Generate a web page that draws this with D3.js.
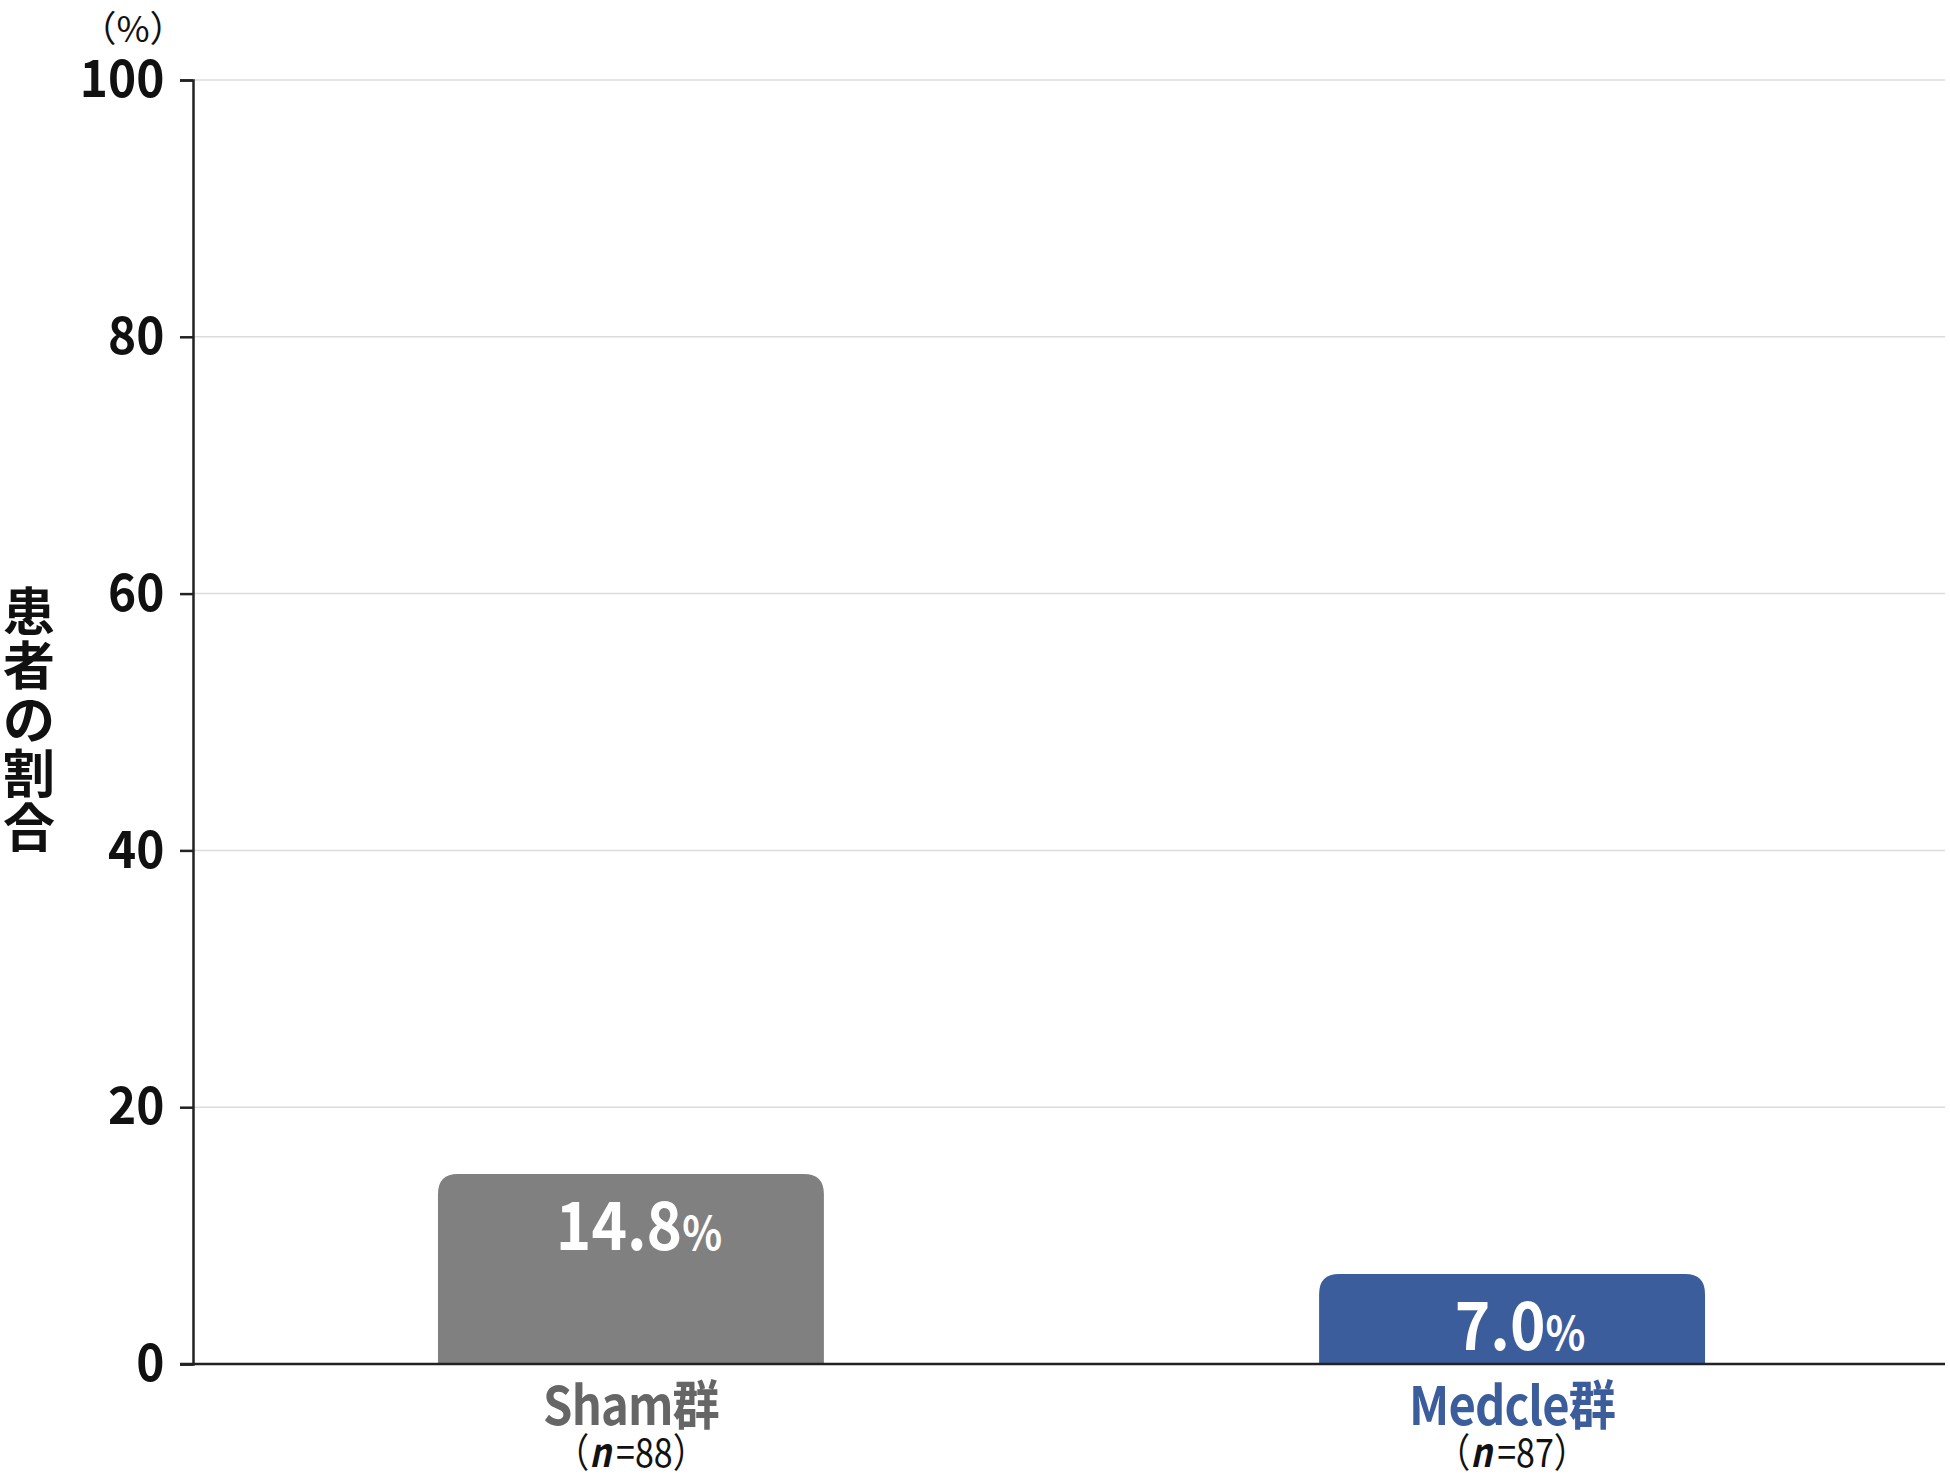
<!DOCTYPE html>
<html><head><meta charset="utf-8">
<script src="https://cdn.jsdelivr.net/npm/d3@7"></script>
<style>
html,body{margin:0;padding:0;background:#fff;}
text{font-family:"Noto Sans CJK JP","Noto Sans",sans-serif;}
</style></head>
<body><svg id="chart" width="1950" height="1479"></svg>
<script>
const categories = ["Sham群", "Medcle群"];
const sampleSizes = ["88", "87"];
const values = [14.8, 7.0];
const barColors = ["#808080", "#3b5d9b"];
const labelColors = ["#666666", "#3b5d9b"];
const yTicks = [0, 20, 40, 60, 80, 100];
const yTitle = "患者の割合";
const yUnit = "（%）";

(function () {
const svg = d3.select("#chart");
const mLeft = 193, mRight = 1945, mTop = 80, mBottom = 1364;

const x = d3.scaleBand().domain(categories).range([mLeft, 1950]).paddingInner(0.562).paddingOuter(0.278);
const y = d3.scaleLinear().domain([0, 100]).range([mBottom, mTop]);
const cx = c => x(c) + x.bandwidth() / 2;

// gridlines
svg.append("g").selectAll("line").data(yTicks.filter(d => d > 0)).join("line")
  .attr("x1", mLeft).attr("x2", mRight)
  .attr("y1", d => y(d)).attr("y2", d => y(d))
  .attr("stroke", "#dcdcdc").attr("stroke-width", 1.5);

// bars with rounded top corners
const r = 20;
svg.append("g").selectAll("path").data(categories).join("path")
  .attr("d", (c, i) => {
    const x0 = x(c), x1 = x(c) + x.bandwidth(), y0 = y(0), yt = y(values[i]);
    return `M${x0},${y0} L${x0},${yt + r} Q${x0},${yt} ${x0 + r},${yt} L${x1 - r},${yt} Q${x1},${yt} ${x1},${yt + r} L${x1},${y0} Z`;
  })
  .attr("fill", (c, i) => barColors[i]);

// value labels
const vl = svg.append("g").selectAll("text").data(categories).join("text")
  .attr("transform", (c, i) => `translate(${cx(c) + 8},${y(values[i]) + 76}) scale(0.9,1)`)
  .attr("text-anchor", "middle")
  .attr("fill", "#fff").attr("font-weight", "bold");
vl.append("tspan").attr("font-size", 67).text((c, i) => values[i].toFixed(1));
vl.append("tspan").attr("font-size", 46).text("%");

// y axis
const yAxis = d3.axisLeft(y).tickValues(yTicks).tickSize(13).tickPadding(17).tickFormat(d3.format("d"));
const ga = svg.append("g").attr("transform", `translate(${mLeft},0)`).call(yAxis);
ga.select(".domain").attr("stroke", "#222").attr("stroke-width", 2.5);
ga.selectAll(".tick line").attr("stroke", "#222").attr("stroke-width", 2.5);
ga.selectAll(".tick text").attr("font-size", 52).attr("font-weight", "bold").attr("fill", "#111")
  .attr("x", -31).attr("transform", "scale(0.92,1)")
  .attr("font-family", '"Noto Sans CJK JP","Noto Sans",sans-serif');

// x axis line
svg.append("line").attr("x1", mLeft - 13).attr("x2", mRight).attr("y1", mBottom).attr("y2", mBottom)
  .attr("stroke", "#222").attr("stroke-width", 2.5);

// category labels
svg.append("g").selectAll("text").data(categories).join("text")
  .attr("transform", c => `translate(${cx(c)},1425) scale(0.89,1)`)
  .attr("text-anchor", "middle").attr("font-size", 53).attr("font-weight", "bold")
  .attr("letter-spacing", -1)
  .attr("fill", (c, i) => labelColors[i]).text(c => c);

const nl = svg.append("g").selectAll("text").data(categories).join("text")
  .attr("transform", c => `translate(${cx(c)},1467) scale(0.85,1)`)
  .attr("text-anchor", "middle").attr("font-size", 40).attr("fill", "#111");
nl.append("tspan").text("（");
nl.append("tspan").attr("font-style", "italic").attr("font-weight", "bold").text("n");
nl.append("tspan").attr("dx", 6).text("=");
nl.append("tspan").text((c, i) => sampleSizes[i]);
nl.append("tspan").text("）");

// unit
svg.append("text").attr("x", 133).attr("y", 42).attr("text-anchor", "middle")
  .attr("font-size", 36).attr("fill", "#111").text(yUnit);

// y title: stacked upright characters
const yt = svg.append("text").attr("x", 29).attr("y", 631)
  .attr("text-anchor", "middle").attr("font-size", 52).attr("font-weight", "bold")
  .attr("fill", "#111");
yt.selectAll("tspan").data(Array.from(yTitle)).join("tspan")
  .attr("x", 29).attr("dy", (d, i) => i === 0 ? 0 : 54).text(d => d);
})();
</script></body></html>
